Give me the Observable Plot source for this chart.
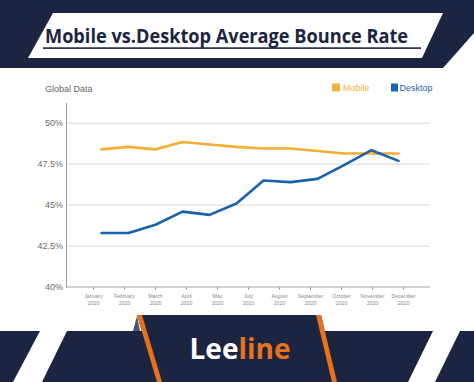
<!DOCTYPE html>
<html>
<head>
<meta charset="utf-8">
<script src="https://cdn.jsdelivr.net/npm/d3@7"></script>
<script src="https://cdn.jsdelivr.net/npm/@observablehq/plot@0.6"></script>
<style>
  html, body { margin: 0; padding: 0; background: #ffffff; }
  #wrap { position: relative; width: 474px; height: 382px; overflow: hidden; background: #ffffff; }
  #wrap > svg, #wrap > .layer { position: absolute; left: 0; top: 0; }
</style>
</head>
<body>
<div id="wrap">
  <svg class="layer" width="474" height="382" viewBox="0 0 474 382">
    <!-- header band -->
    <polygon points="0,0 474,0 474,33 443,68 0,68" fill="#1b2440"/>
    <polygon points="53,13 443,13 422,58 28,58" fill="#ffffff"/>
    <text x="45" y="43" font-family="Open Sans, Noto Sans, sans-serif" font-weight="700" font-size="19" textLength="363" lengthAdjust="spacingAndGlyphs" fill="#1b2440">Mobile vs.Desktop Average Bounce Rate</text>
    <rect x="43" y="47.3" width="378" height="1.6" fill="#1b2440"/>
    <!-- subtitle & legend -->
    <text x="45" y="92" font-family="Liberation Sans, Arial, sans-serif" font-size="9" fill="#666">Global Data</text>
    <rect x="332" y="83.5" width="8" height="8" fill="#f5b335"/>
    <text x="343" y="91" font-family="Liberation Sans, Arial, sans-serif" font-size="9" fill="#f5b335">Mobile</text>
    <rect x="391" y="83.5" width="7" height="8" fill="#1a66b0"/>
    <text x="399.5" y="91" font-family="Liberation Sans, Arial, sans-serif" font-size="9" fill="#1a66b0">Desktop</text>
    <!-- footer band -->
    <polygon points="0,331 474,331 474,382 0,382" fill="#1b2440"/>
    <polygon points="40,331 67,331 42,382 13,382" fill="#ffffff"/>
    <polygon points="433,331 460,331 435,382 408,382" fill="#ffffff"/>
    <polygon points="137,315 321,315 337,382 157,382" fill="#1b2440"/>
    <polygon points="133,331 137,316 140,331" fill="#4b5670"/>
    <polygon points="137,315 142,315 162,382 157,382" fill="#e8721c"/>
    <polygon points="316,315 321,315 337,382 332,382" fill="#e8721c"/>
    <text x="240" y="359" text-anchor="middle" font-family="Open Sans, Noto Sans, sans-serif" font-weight="700" font-size="28"><tspan fill="#ffffff">Lee</tspan><tspan fill="#e8721c">line</tspan></text>
  </svg>
</div>
<script>
// ---- data ----
const months = ["January","February","March","April","May","June","July","August","September","October","November","December"];
const mobile  = [48.4, 48.55, 48.4, 48.85, 48.7, 48.55, 48.45, 48.45, 48.3, 48.15, 48.15, 48.15];
const desktop = [43.3, 43.3, 43.8, 44.6, 44.4, 45.1, 46.5, 46.4, 46.6, 47.45, 48.35, 47.7];
const yTicks = [40, 42.5, 45, 47.5, 50];
const xTickLabels = ["January","February","March","April","May","July","August","September","October","November","December"];
const tickYear = "2020";
const seriesNames = ["Mobile", "Desktop"];
const seriesColors = ["#f3af31", "#1764ad"];

const rows = [];
months.forEach((m, i) => {
  rows.push({month: m, series: "Mobile", value: mobile[i]});
  rows.push({month: m, series: "Desktop", value: desktop[i]});
});

const common = {
  width: 474, height: 382,
  marginTop: 103, marginBottom: 95.5, marginLeft: 66, marginRight: 44,
  style: {background: "transparent", fontFamily: "Liberation Sans, Arial, sans-serif", overflow: "visible"}
};

const main = Plot.plot({
  ...common,
  x: {type: "point", domain: months, insetLeft: 17, insetRight: 15, axis: null, label: null},
  y: {domain: [40, 51.2], axis: null, label: null},
  color: {domain: seriesNames, range: seriesColors},
  marks: [
    Plot.gridY({ticks: yTicks, stroke: "#d8d8d8", strokeOpacity: 1, strokeWidth: 1}),
    Plot.axisY({ticks: yTicks, label: null, tickSize: 0, tickPadding: 3.5, fontSize: 9, color: "#6b6b6b", tickFormat: d => d + "%"}),
    Plot.frame({anchor: "left", stroke: "#9a9a9a"}),
    Plot.line(rows, {x: "month", y: "value", z: "series", stroke: "series", strokeWidth: 2.6, curve: "linear"})
  ]
});

const xaxis = Plot.plot({
  ...common,
  x: {type: "point", domain: xTickLabels, insetLeft: 8, insetRight: 8.3, label: null},
  y: {domain: [0, 1], axis: null, label: null},
  marks: [
    Plot.ruleY([0], {stroke: "#9a9a9a"}),
    Plot.axisX({label: null, tickSize: 3, tickPadding: 3, fontSize: 5.2, lineHeight: 1.35, color: "#8a8a8a", tickFormat: d => d + "\n" + tickYear})
  ]
});

const wrap = document.getElementById("wrap");
wrap.appendChild(xaxis);
wrap.appendChild(main);
</script>
</body>
</html>
